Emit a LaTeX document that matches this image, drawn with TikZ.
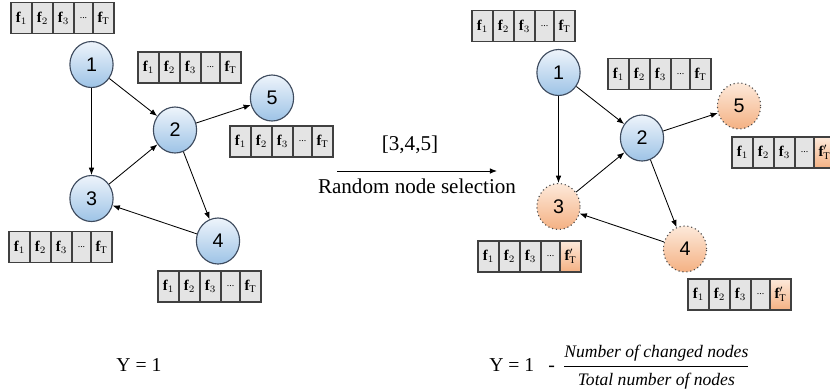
\documentclass[tikz,border=0pt]{standalone}
\usepackage{amsmath}
\usepackage{fontspec}
\setmainfont{Liberation Serif}
\newfontfamily\numfont{Liberation Sans}
\usepackage{tikz}
\usetikzlibrary{positioning,calc,arrows.meta,shapes.geometric}
\definecolor{nodeblue}{HTML}{9DC3E6}
\definecolor{nodepale}{HTML}{EEF4FB}
\definecolor{nodeline}{HTML}{3E4B5E}
\definecolor{changed}{HTML}{F4B183}
\definecolor{changedpale}{HTML}{FDE9DA}
\definecolor{cellgray}{HTML}{E4E4E4}
\definecolor{cellline}{HTML}{404040}
\tikzset{
  graphnode/.style   = {ellipse,draw=nodeline,line width=0.8pt,minimum width=1.08cm,minimum height=1.15cm,
                        top color=nodepale,bottom color=nodeblue,font=\numfont\fontsize{14}{16}\selectfont},
  changednode/.style = {graphnode,dotted,draw=black!70,top color=changedpale,bottom color=changed},
  fcell/.style       = {rectangle,draw=cellline,line width=1.1pt,fill=cellgray,inner sep=0pt,outer sep=0pt,
                        minimum width=0.525cm,minimum height=0.775cm,font=\fontsize{10.5}{12}\selectfont},
  dotcell/.style     = {fcell,minimum width=0.475cm},
  newcell/.style     = {fcell,top color=changedpale,bottom color=changed},
  conn/.style        = {->,line width=0.6pt},
  note/.style        = {inner sep=0pt,font=\fontsize{15}{18}\selectfont},
  >={Latex[length=1.8mm,width=1.4mm]}
}
\newcommand{\DrawFeatures}[4]{%
  % first cell, its left edge at the given point
  \node[fcell,anchor=west] (#1-1) at #2 {$\mathbf{f}_1$};
  % the next cells, each one touching the one before
  \node[fcell,right=0pt of #1-1] (#1-2) {$\mathbf{f}_2$};
  \node[fcell,right=0pt of #1-2] (#1-3) {$\mathbf{f}_3$};
  \node[dotcell,right=0pt of #1-3] (#1-4) {\scriptsize ...};
  % last cell (f_T), plain or changed
  \node[#3,right=0pt of #1-4] (#1-T) {#4};
}

\begin{document}
\begin{tikzpicture}[x=0.025cm,y=-0.025cm]
  \useasboundingbox (0,0) rectangle (830,391);
  \clip (0,0) rectangle (830,391);

  % graph before the selection
  \node[graphnode] (a1) at (91.5,64.5) {1};
  \node[graphnode] (a2) at (175,130)   {2};
  \node[graphnode] (a3) at (91.5,198.5) {3};
  \node[graphnode] (a4) at (218,241)   {4};
  \node[graphnode] (a5) at (272,98)    {5};

  \draw[conn] (a1) -- (a2);
  \draw[conn] (a1) -- (a3);
  \draw[conn] (a2) -- (a5);
  \draw[conn] (a2) -- (a4);
  \draw[conn] (a3) -- (a2);
  \draw[conn] (a4) -- (a3);

  \DrawFeatures{fa1}{(11,18)}{fcell}{$\mathbf{f}_{\mathrm{T}}$}
  \DrawFeatures{fa2}{(138,67.5)}{fcell}{$\mathbf{f}_{\mathrm{T}}$}
  \DrawFeatures{fa5}{(230,141.5)}{fcell}{$\mathbf{f}_{\mathrm{T}}$}
  \DrawFeatures{fa3}{(9,247)}{fcell}{$\mathbf{f}_{\mathrm{T}}$}
  \DrawFeatures{fa4}{(158,286.5)}{fcell}{$\mathbf{f}_{\mathrm{T}}$}

  % selection step
  \coordinate (selL) at (337,171);
  \coordinate (selR) at (497,171);
  \draw[conn] (selL) -- (selR);
  \node[note] (picked) at (410,145) {[3,4,5]};
  \node[note] (rns)    at (417,186) {Random node selection};

  % graph after the selection
  \node[graphnode]   (b1) at (558.5,72.5) {1};
  \node[graphnode]   (b2) at (642,138)    {2};
  \node[changednode] (b3) at (558.5,206.5) {3};
  \node[changednode] (b4) at (685,249)    {4};
  \node[changednode] (b5) at (739,106)    {5};

  \draw[conn] (b1) -- (b2);
  \draw[conn] (b1) -- (b3);
  \draw[conn] (b2) -- (b5);
  \draw[conn] (b2) -- (b4);
  \draw[conn] (b3) -- (b2);
  \draw[conn] (b4) -- (b3);

  \DrawFeatures{fb1}{(472,26)}{fcell}{$\mathbf{f}_{\mathrm{T}}$}
  \DrawFeatures{fb2}{(608,74)}{fcell}{$\mathbf{f}_{\mathrm{T}}$}
  \DrawFeatures{fb5}{(732,152.5)}{newcell}{$\mathbf{f}'_{\mathrm{T}}$}
  \DrawFeatures{fb3}{(478,256.5)}{newcell}{$\mathbf{f}'_{\mathrm{T}}$}
  \DrawFeatures{fb4}{(688,294.5)}{newcell}{$\mathbf{f}'_{\mathrm{T}}$}

  % scores
  \node[note,font=\fontsize{14}{17}\selectfont] (ya) at (139,365) {Y = 1};
  \node[note,font=\fontsize{14}{17}\selectfont,anchor=west] (yb) at (489,367)
    {Y = 1\hspace{10pt}-\hspace{2pt} $\dfrac{\text{\fontsize{12.5}{15}\selectfont\itshape Number of changed nodes}}
                               {\text{\fontsize{12.5}{15}\selectfont\itshape Total number of nodes}}$};
\end{tikzpicture}
\end{document}
